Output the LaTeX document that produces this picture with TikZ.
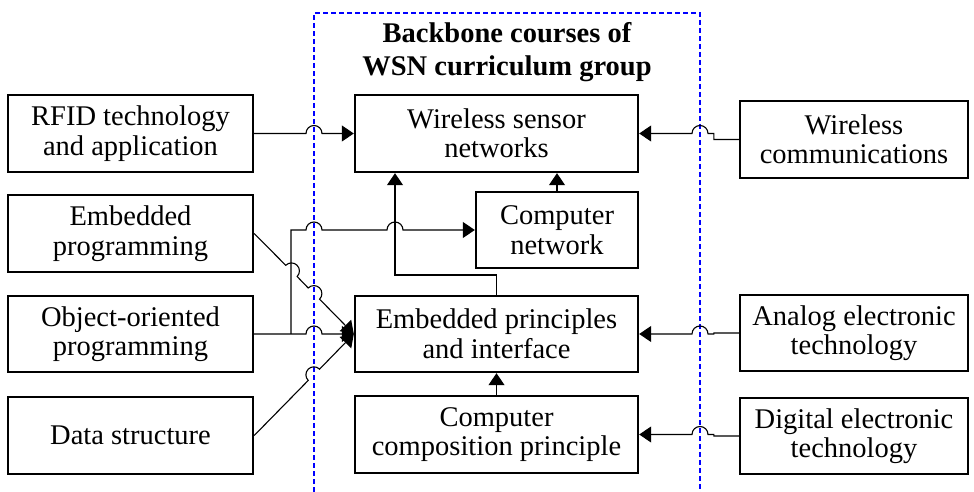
\documentclass[tikz,border=0pt]{standalone}
\usepackage{fontspec}
\setmainfont{Liberation Serif}
\usetikzlibrary{arrows.meta,calc}
\begin{document}
\begin{tikzpicture}[x=1pt,y=1pt,
  course/.style={draw, line width=2.4pt, align=center, inner sep=0pt,
    font=\fontsize{28.5}{29.5}\selectfont},
  link/.style={line width=1.1pt},
  arr/.style={link, -{Triangle[length=12pt,width=16pt]}},
  group/.style={draw=blue, line width=2pt, dash pattern=on 5pt off 3pt}]
\useasboundingbox (0,0) rectangle (974,492);

% dashed frame of the backbone group
\draw[group] (314,0) -- (314,479) -- (700,479) -- (700,0);
\node[font=\fontsize{28.5}{33}\selectfont\bfseries, align=center, inner sep=0pt]
  (title) at (507,440) {Backbone courses of\\WSN curriculum group};

% left column
\node[course, minimum width=245, minimum height=77] (rfid) at (130.5,358.5) {RFID technology\\and application};
\node[course, minimum width=245, minimum height=77] (emb)  at (130.5,258.5) {Embedded\\programming};
\node[course, minimum width=245, minimum height=76] (oop)  at (130.5,158) {Object-oriented\\programming};
\node[course, minimum width=245, minimum height=77] (ds)   at (130.5,56.5) {Data structure};

% backbone column
\node[course, minimum width=283, minimum height=77] (wsn) at (496.5,358.5) {Wireless sensor\\networks};
\node[course, minimum width=162, minimum height=76] (cn)  at (557,262) {Computer\\network};
\node[course, minimum width=283, minimum height=76] (epi) at (496.5,158) {Embedded principles\\and interface};
\node[course, minimum width=283, minimum height=77] (ccp) at (496.5,57.5) {Computer\\composition principle};

% right column
\node[course, minimum width=228, minimum height=77] (wc)  at (854,352.5) {Wireless\\communications};
\node[course, minimum width=228, minimum height=76] (aet) at (854,159) {Analog electronic\\technology};
\node[course, minimum width=228, minimum height=76] (det) at (854,56) {Digital electronic\\technology};

\coordinate (br) at (291,158);
\coordinate (k1) at (395,217);

% left inputs
\draw[arr] (rfid.east) -- (306,358.5) arc[start angle=180,end angle=0,radius=8] -- (wsn.west);
\draw[arr] (oop.east) -- (306,158) arc[start angle=180,end angle=0,radius=8] -- (epi.west);
\draw[arr] (br) -- (291,262) -- (306,262) arc[start angle=180,end angle=0,radius=8]
  -- (387,262) arc[start angle=180,end angle=0,radius=8] -- (cn.west);
\draw[arr] (emb.east) -- ($(emb.east)!0.3166!(epi.west)$)
  arc[start angle=135.43,end angle=-44.57,radius=8]
  -- ($(emb.east)!0.5421!(epi.west)$)
  arc[start angle=135.43,end angle=-44.57,radius=8] -- (epi.west);
\draw[arr] (ds.east) -- ($(ds.east)!0.5424!(epi.west)$)
  arc[start angle=224.86,end angle=44.86,radius=8] -- (epi.west);

% right inputs
\draw[arr] (wc.west) -- ++(-25,0) |- (708,358.5) arc[start angle=0,end angle=180,radius=8] -- (wsn.east);
\draw[arr] (aet.west) -- ++(-25,0) |- (708,158) arc[start angle=0,end angle=180,radius=8] -- (epi.east);
\draw[arr] (det.west) -- ++(-25,0) |- (708,57.5) arc[start angle=0,end angle=180,radius=8] -- (ccp.east);

% links inside the backbone group
\draw[arr] (cn.north) -- (cn.north |- wsn.south);
\draw[arr] (ccp.north) -- (epi.south);
\draw[arr] (epi.north) |- (k1) -- (k1 |- wsn.south);
\end{tikzpicture}
\end{document}
